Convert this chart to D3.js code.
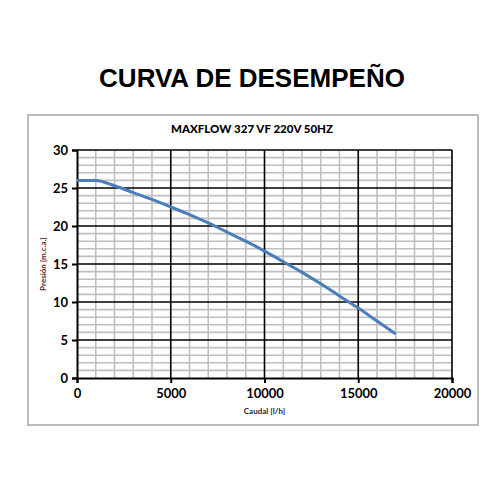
<!DOCTYPE html>
<html>
<head>
<meta charset="utf-8">
<script src="https://cdn.jsdelivr.net/npm/d3@7"></script>
<style>
  body { margin: 0; background: #fff; }
</style>
</head>
<body>
<script>
// curva
const caudal = [0, 1000, 2000, 3000, 4000, 5000, 6000, 7000, 8000, 9000, 10000, 11000, 12000, 13000, 14000, 15000, 16000, 17000];
const presion = [26, 26, 25.3, 24.4, 23.5, 22.5, 21.5, 20.4, 19.2, 18, 16.7, 15.3, 13.9, 12.4, 10.8, 9.2, 7.5, 5.8];
const xTicks = [0, 5000, 10000, 15000, 20000];
const yTicks = [0, 5, 10, 15, 20, 25, 30];

const width = 500, height = 500;
const m = { left: 77, right: 48, top: 150, bottom: 122 };

const svg = d3.select("body").append("svg")
  .attr("width", width)
  .attr("height", height);

svg.append("text")
  .attr("x", 252).attr("y", 87)
  .attr("text-anchor", "middle")
  .style("font-family", "'Liberation Sans', Arial, sans-serif")
  .style("font-weight", "bold")
  .style("font-size", "26px")
  .text("CURVA DE DESEMPEÑO");

// marco
svg.append("rect")
  .attr("x", 28).attr("y", 115)
  .attr("width", 450).attr("height", 310)
  .attr("fill", "none")
  .attr("stroke", "#a6a6a6")
  .attr("stroke-width", 1.5);

svg.append("text")
  .attr("x", 252).attr("y", 133)
  .attr("text-anchor", "middle")
  .style("font-family", "Lato, sans-serif")
  .style("font-weight", "900")
  .style("font-size", "11.5px")
  .text("MAXFLOW 327 VF 220V 50HZ");

const x = d3.scaleLinear().domain([0, 20000]).range([m.left, width - m.right]);
const y = d3.scaleLinear().domain([0, 30]).range([height - m.bottom, m.top]);

const g = svg.append("g");

// rejilla menor
g.selectAll(".vmin").data(d3.range(1000, 20000, 1000).filter(v => v % 5000))
  .join("line")
  .attr("x1", d => x(d)).attr("x2", d => x(d))
  .attr("y1", y(0)).attr("y2", y(30))
  .attr("stroke", "#bfbfbf").attr("stroke-width", 1.6);
g.selectAll(".hmin").data(d3.range(1, 30, 1).filter(v => v % 5))
  .join("line")
  .attr("x1", x(0)).attr("x2", x(20000))
  .attr("y1", d => y(d)).attr("y2", d => y(d))
  .attr("stroke", "#bfbfbf").attr("stroke-width", 1.6);

// rejilla mayor
g.selectAll(".vmaj").data(xTicks.slice(1))
  .join("line")
  .attr("x1", d => x(d)).attr("x2", d => x(d))
  .attr("y1", y(0)).attr("y2", y(30))
  .attr("stroke", "#000").attr("stroke-width", 1.6);
g.selectAll(".hmaj").data(yTicks.slice(1))
  .join("line")
  .attr("x1", x(0)).attr("x2", x(20000))
  .attr("y1", d => y(d)).attr("y2", d => y(d))
  .attr("stroke", "#000").attr("stroke-width", 1.6);

const tickFont = sel => sel
  .style("font-family", "Lato, sans-serif")
  .style("font-weight", "bold")
  .style("font-size", "13px")
  .attr("fill", "#000");

const xAxis = svg.append("g")
  .attr("transform", `translate(0,${y(0)})`)
  .call(d3.axisBottom(x).tickValues(xTicks).tickSize(5).tickPadding(6).tickFormat(d3.format("d")));
xAxis.select(".domain").attr("stroke-width", 2);
xAxis.selectAll(".tick line").attr("stroke-width", 2);
xAxis.selectAll("text").call(tickFont);

const yAxis = svg.append("g")
  .attr("transform", `translate(${x(0)},0)`)
  .call(d3.axisLeft(y).tickValues(yTicks).tickSize(5).tickPadding(4));
yAxis.select(".domain").attr("stroke-width", 2);
yAxis.selectAll(".tick line").attr("stroke-width", 2);
yAxis.selectAll("text").call(tickFont);

svg.append("text")
  .attr("x", (x(0) + x(20000)) / 2).attr("y", 414)
  .attr("text-anchor", "middle")
  .style("font-family", "Lato, sans-serif")
  .style("font-weight", "bold")
  .style("font-size", "8px")
  .attr("fill", "#1f1f3a")
  .text("Caudal [l/h]");

svg.append("text")
  .attr("transform", `translate(46,${(y(0) + y(30)) / 2}) rotate(-90)`)
  .attr("text-anchor", "middle")
  .style("font-family", "Lato, sans-serif")
  .style("font-weight", "bold")
  .style("font-size", "8px")
  .attr("fill", "#5a1a1a")
  .text("Presión [m.c.a.]");

const line = d3.line()
  .x((d, i) => x(caudal[i]))
  .y(d => y(d))
  .curve(d3.curveMonotoneX);

svg.append("path")
  .datum(presion)
  .attr("d", line)
  .attr("fill", "none")
  .attr("stroke", "#4a7ebb")
  .attr("stroke-width", 3);
</script>
</body>
</html>
